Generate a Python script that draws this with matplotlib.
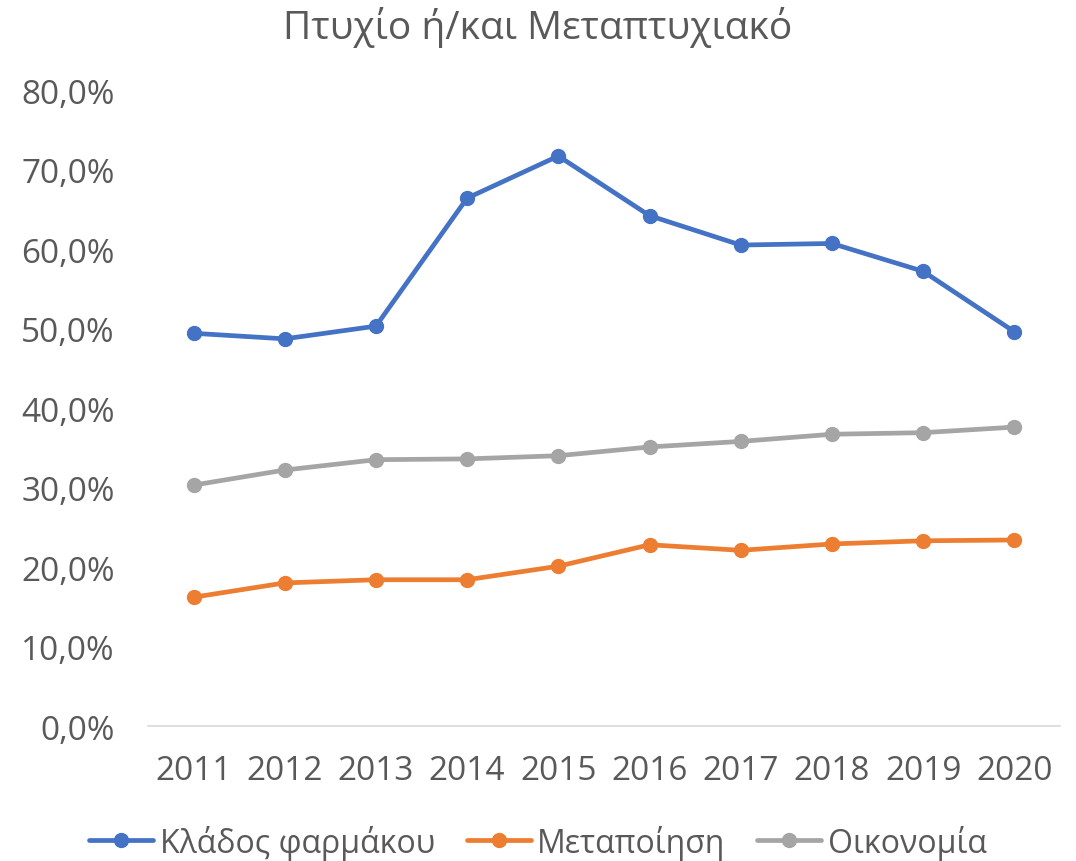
# plot.py
# Πτυχίο ή/και Μεταπτυχιακό – line chart

import matplotlib.pyplot as plt
from matplotlib.ticker import FuncFormatter

# ── data ────────────────────────────────────────────
years = ["2011", "2012", "2013", "2014", "2015", "2016", "2017", "2018", "2019", "2020"]
pharma = [0.494, 0.487, 0.503, 0.664, 0.717, 0.642, 0.605, 0.607, 0.572, 0.496]
manufacturing = [0.162, 0.180, 0.184, 0.184, 0.201, 0.228, 0.221, 0.229, 0.233, 0.234]
economy = [0.303, 0.322, 0.335, 0.336, 0.340, 0.351, 0.358, 0.367, 0.369, 0.376]

series = [
    ("Κλάδος φαρμάκου", pharma, "#4472C4"),
    ("Μεταποίηση", manufacturing, "#ED7D31"),
    ("Οικονομία", economy, "#A5A5A5"),
]

plt.rcParams["font.family"] = ["Open Sans", "DejaVu Sans"]
text_col = "#595959"

fig = plt.figure(figsize=(10.76, 8.62), dpi=100)
ax = fig.add_axes([0.1375, 0.1566, 0.8475, 0.7378])

x = range(len(years))
for name, vals, col in series:
    ax.plot(x, vals, color=col, linewidth=3.4, marker="o", markersize=10,
            label=name, solid_capstyle="round")

ax.set_xlim(-0.5, len(years) - 0.5)
ax.set_ylim(0, 0.8)
ax.set_yticks([i / 10 for i in range(9)])
ax.yaxis.set_major_formatter(FuncFormatter(lambda v, p: f"{v*100:.1f}%".replace(".", ",")))
ax.set_xticks(list(x))
ax.set_xticklabels(years)

for s in ["top", "right", "left"]:
    ax.spines[s].set_visible(False)
ax.spines["bottom"].set_color("#D9D9D9")
ax.spines["bottom"].set_linewidth(1.2)
ax.tick_params(axis="both", length=0, labelsize=24, colors=text_col)
ax.tick_params(axis="x", pad=20)
ax.tick_params(axis="y", pad=24)

fig.text(0.5, 0.968, "Πτυχίο ή/και Μεταπτυχιακό", ha="center", va="center",
         fontsize=28, color=text_col)

fig.legend(loc="center", bbox_to_anchor=(0.5, 0.022), ncol=3, frameon=False,
           fontsize=23, labelcolor=text_col, handlelength=2.0,
           columnspacing=1.0, handletextpad=0.2)

plt.savefig("out.png", dpi=100)
